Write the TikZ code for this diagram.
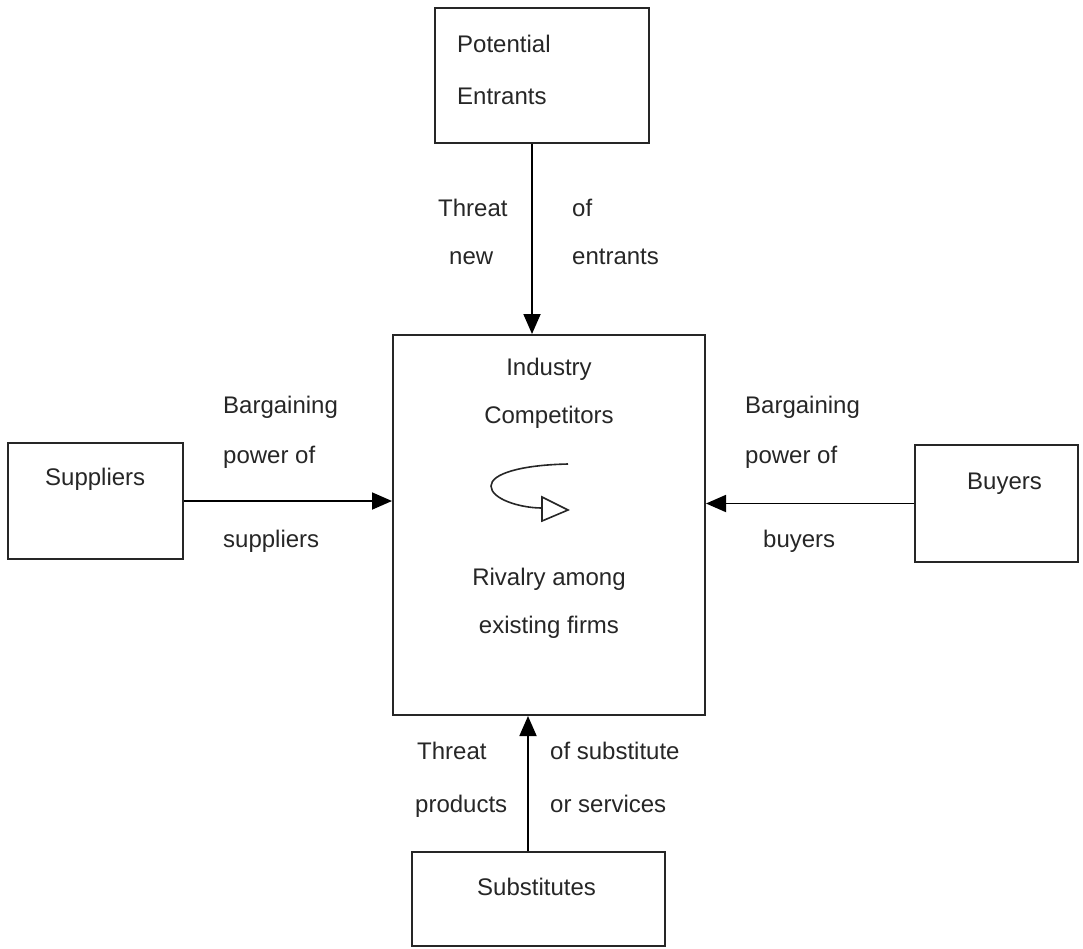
\documentclass[tikz,border=0pt]{standalone}
\usepackage{fontspec}
\setmainfont{Liberation Sans}
\usetikzlibrary{arrows.meta}
\begin{document}
\begin{tikzpicture}[x=1pt,y=-1pt,
  box/.style={draw=black!85,line width=2pt,inner sep=0pt},
  lbl/.style={anchor=base west,inner sep=0pt,font=\fontsize{24}{28}\selectfont,text=black!85},
  clbl/.style={anchor=base,inner sep=0pt,font=\fontsize{24}{28}\selectfont,text=black!85},
  arr/.style={draw=black,line width=1.8pt,-{Triangle[length=20pt,width=17pt]}}]
\useasboundingbox (0,0) rectangle (1083,948);
% boxes
\node[box,minimum width=214pt,minimum height=135pt] (ent) at (542,75.5) {};
\node[box,minimum width=312pt,minimum height=380pt] (ind) at (549,525) {};
\node[box,minimum width=175pt,minimum height=116pt] (sup) at (95.5,501) {};
\node[box,minimum width=163pt,minimum height=117pt] (buy) at (996.5,503.5) {};
\node[box,minimum width=253pt,minimum height=94pt] (sub) at (538.5,899) {};
% box texts
\node[lbl] (t1) at (457,52) {Potential};
\node[lbl] (t2) at (457,104) {Entrants};
\node[lbl] (t3) at (45,485) {Suppliers};
\node[lbl] (t4) at (967,489) {Buyers};
\node[lbl] (t5) at (477,895) {Substitutes};
\node[clbl] (t6) at (549,375) {Industry};
\node[clbl] (t7) at (549,423) {Competitors};
\node[clbl] (t8) at (549,585) {Rivalry among};
\node[clbl] (t9) at (549,633) {existing firms};
% arrow labels
\node[lbl] (a1) at (438,216) {Threat};
\node[lbl] (a2) at (572,216) {of};
\node[lbl] (a3) at (449,264) {new};
\node[lbl] (a4) at (572,264) {entrants};
\node[lbl] (b1) at (223,413) {Bargaining};
\node[lbl] (b2) at (223,463) {power of};
\node[lbl] (b3) at (223,547) {suppliers};
\node[lbl] (c1) at (745,413) {Bargaining};
\node[lbl] (c2) at (745,463) {power of};
\node[lbl] (c3) at (763,547) {buyers};
\node[lbl] (d1) at (417,759) {Threat};
\node[lbl] (d2) at (550,759) {of substitute};
\node[lbl] (d3) at (415,812) {products};
\node[lbl] (d4) at (550,812) {or services};
% connectors
\coordinate (ta) at (532,0);
\coordinate (ba) at (528,0);
\draw[arr] (ent.south -| ta) -- (ind.north -| ta);
\draw[arr] (sup.east) -- (ind.west |- sup.east);
\draw[arr] (buy.west) -- (ind.east |- buy.west);
\draw[arr] (sub.north -| ba) -- (ind.south -| ba);
% rivalry symbol
\coordinate (r0) at (568,464);
\coordinate (r1) at (491,486);
\coordinate (r2) at (542,508);
\draw[line width=1.6pt,black!85] (r0) .. controls (520,465) and (491,474) .. (r1) .. controls (491,499) and (520,508) .. (r2);
\draw[line width=1.6pt,black!85,line join=miter] (542,497) -- (568,510) -- (542,521) -- cycle;
\end{tikzpicture}
\end{document}
